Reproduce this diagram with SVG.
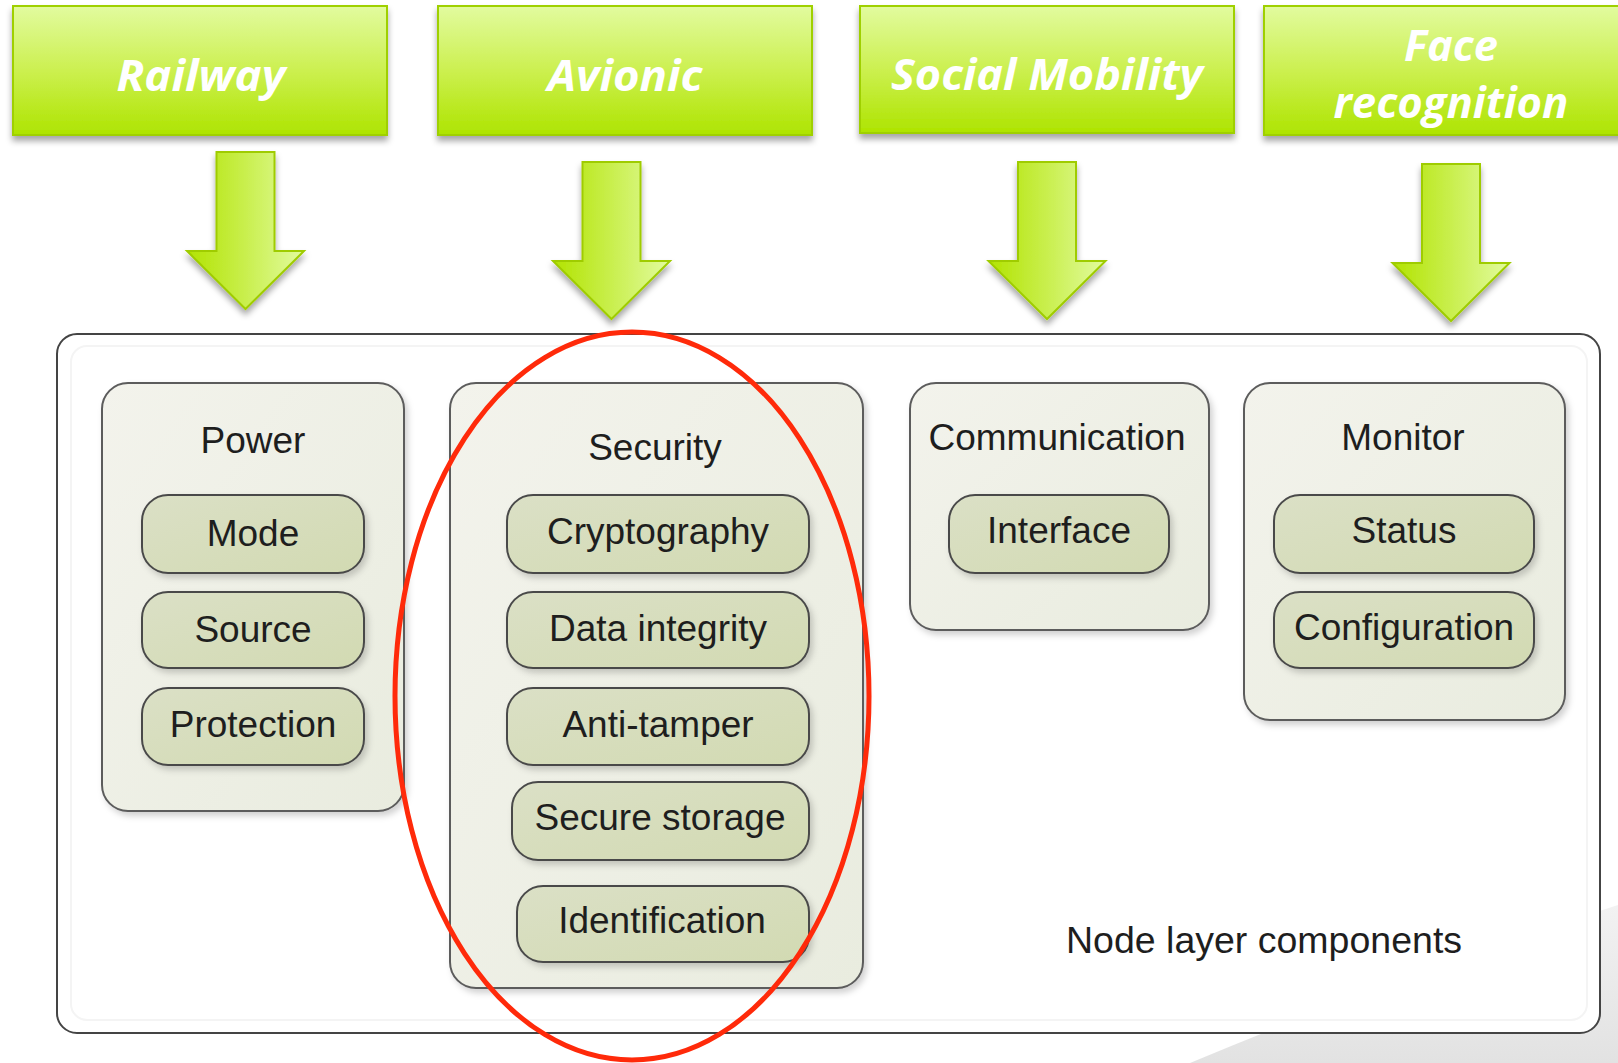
<svg xmlns="http://www.w3.org/2000/svg" xmlns:xlink="http://www.w3.org/1999/xlink" width="1618" height="1063" viewBox="0 0 1618 1063">
<defs>
<linearGradient id="gBox" x1="0" y1="0" x2="0" y2="1">
<stop offset="0" stop-color="#e2fb9f"/>
<stop offset="0.5" stop-color="#ccf050"/>
<stop offset="1" stop-color="#aee400"/>
</linearGradient>
<linearGradient id="gArrow" x1="0" y1="0" x2="1" y2="0">
<stop offset="0" stop-color="#b2e300"/>
<stop offset="0.5" stop-color="#c9ef4e"/>
<stop offset="1" stop-color="#e2fb9f"/>
</linearGradient>
<linearGradient id="gGroup" x1="0" y1="0" x2="1" y2="1">
<stop offset="0" stop-color="#f3f3ec"/>
<stop offset="1" stop-color="#e9ecdf"/>
</linearGradient>
<linearGradient id="gPill" x1="0" y1="0" x2="1" y2="1">
<stop offset="0" stop-color="#dbe0c6"/>
<stop offset="1" stop-color="#d2dab2"/>
</linearGradient>
<linearGradient id="gSwoosh" x1="0" y1="0" x2="0" y2="1">
<stop offset="0" stop-color="#f2f2f2"/>
<stop offset="1" stop-color="#e2e2e2"/>
</linearGradient>
<filter id="shBox" x="-10%" y="-10%" width="120%" height="130%">
<feDropShadow dx="0" dy="5" stdDeviation="3" flood-color="#000" flood-opacity="0.35"/>
</filter>
<filter id="shSoft" x="-10%" y="-10%" width="130%" height="130%">
<feDropShadow dx="3" dy="4" stdDeviation="3" flood-color="#000" flood-opacity="0.18"/>
</filter>
<path id="arrow" d="M-29,0 H29 V99 H58.5 L0,157 L-58.5,99 H-29 Z"/>
</defs>
<style>
.gbox{fill:url(#gBox);stroke:#9fd000;stroke-width:2;filter:url(#shBox)}
.gtxt{font-family:"Open Sans","Liberation Sans",sans-serif;font-weight:bold;font-style:italic;font-size:43px;fill:#ffffff;text-anchor:middle}
.arr{fill:url(#gArrow);stroke:#9fcc00;stroke-width:2;filter:url(#shBox)}
.grp{fill:url(#gGroup);stroke:#5c5c5c;stroke-width:2;filter:url(#shSoft)}
.pill{fill:url(#gPill);stroke:#4a4a4a;stroke-width:2;filter:url(#shSoft)}
.t{font-family:"Liberation Sans",Arial,sans-serif;font-size:37px;fill:#1e1e1e;text-anchor:middle}
</style>
<rect x="0" y="0" width="1618" height="1063" fill="#ffffff"/>
<path d="M1190,1063 Q1400,975 1618,905 L1618,1063 Z" fill="url(#gSwoosh)"/>

<g id="container">
<rect x="57" y="334" width="1543" height="699" rx="20" fill="#ffffff" stroke="#444444" stroke-width="2"/>
<rect x="71" y="346" width="1516" height="674" rx="16" fill="none" stroke="#f4f4f4" stroke-width="2"/>
<text class="t" x="1066" y="953" style="text-anchor:start;font-size:37.5px">Node layer components</text>
</g>

<g id="railway">
<rect class="gbox" x="13" y="6" width="374" height="129"/>
<text class="gtxt" x="201" y="91" textLength="169" lengthAdjust="spacingAndGlyphs">Railway</text>
</g>
<g id="avionic">
<rect class="gbox" x="438" y="6" width="374" height="129"/>
<text class="gtxt" x="625" y="91" textLength="155" lengthAdjust="spacingAndGlyphs">Avionic</text>
</g>
<g id="social-mobility">
<rect class="gbox" x="860" y="6" width="374" height="127"/>
<text class="gtxt" x="1047" y="90" textLength="312" lengthAdjust="spacingAndGlyphs">Social Mobility</text>
</g>
<g id="face-recognition">
<rect class="gbox" x="1264" y="6" width="380" height="129"/>
<text class="gtxt" x="1451" y="61" textLength="94" lengthAdjust="spacingAndGlyphs">Face</text>
<text class="gtxt" x="1451" y="118" textLength="235" lengthAdjust="spacingAndGlyphs">recognition</text>
</g>

<g id="connectors">
<use class="arr" xlink:href="#arrow" href="#arrow" transform="translate(245.5,152)"/>
<use class="arr" xlink:href="#arrow" href="#arrow" transform="translate(611.5,162)"/>
<use class="arr" xlink:href="#arrow" href="#arrow" transform="translate(1047,162)"/>
<use class="arr" xlink:href="#arrow" href="#arrow" transform="translate(1451,164)"/>
</g>

<g id="power">
<rect class="grp" x="102" y="383" width="302" height="428" rx="26"/>
<text class="t" x="253" y="453">Power</text>
<g id="mode"><rect class="pill" x="142" y="495" width="222" height="78" rx="26"/><text class="t" x="253" y="546">Mode</text></g>
<g id="source"><rect class="pill" x="142" y="592" width="222" height="76" rx="26"/><text class="t" x="253" y="642">Source</text></g>
<g id="protection"><rect class="pill" x="142" y="688" width="222" height="77" rx="26"/><text class="t" x="253" y="737">Protection</text></g>
</g>

<g id="security">
<rect class="grp" x="450" y="383" width="413" height="605" rx="26"/>
<text class="t" x="655" y="460">Security</text>
<g id="cryptography"><rect class="pill" x="507" y="495" width="302" height="78" rx="26"/><text class="t" x="658" y="544">Cryptography</text></g>
<g id="data-integrity"><rect class="pill" x="507" y="592" width="302" height="76" rx="26"/><text class="t" x="658" y="641">Data integrity</text></g>
<g id="anti-tamper"><rect class="pill" x="507" y="688" width="302" height="77" rx="26"/><text class="t" x="658" y="737">Anti-tamper</text></g>
<g id="secure-storage"><rect class="pill" x="512" y="782" width="297" height="78" rx="26"/><text class="t" x="660" y="830">Secure storage</text></g>
<g id="identification"><rect class="pill" x="517" y="886" width="292" height="76" rx="26"/><text class="t" x="662" y="933">Identification</text></g>
</g>

<g id="communication">
<rect class="grp" x="910" y="383" width="299" height="247" rx="26"/>
<text class="t" x="1057" y="450">Communication</text>
<g id="interface"><rect class="pill" x="949" y="495" width="220" height="78" rx="26"/><text class="t" x="1059" y="543">Interface</text></g>
</g>

<g id="monitor">
<rect class="grp" x="1244" y="383" width="321" height="337" rx="26"/>
<text class="t" x="1403" y="450">Monitor</text>
<g id="status"><rect class="pill" x="1274" y="495" width="260" height="78" rx="26"/><text class="t" x="1404" y="543">Status</text></g>
<g id="configuration"><rect class="pill" x="1274" y="592" width="260" height="76" rx="26"/><text class="t" x="1404" y="640">Configuration</text></g>
</g>

<g id="highlight">
<ellipse cx="632" cy="696" rx="237" ry="364" fill="none" stroke="#ff2a0a" stroke-width="5"/>
</g>
</svg>
